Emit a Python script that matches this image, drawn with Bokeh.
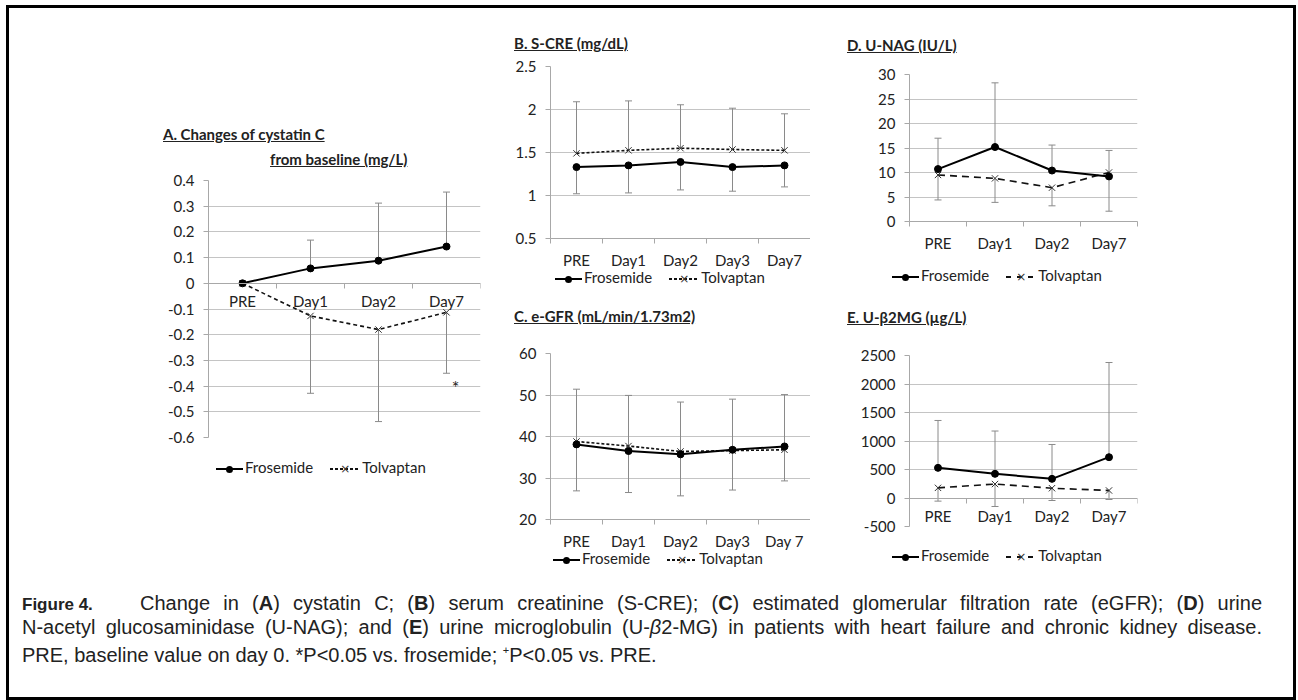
import numpy as np
from bokeh.plotting import figure
from bokeh.models import (FactorRange, Range1d, LinearAxis, CategoricalAxis, FixedTicker, Whisker,
                          TeeHead, ColumnDataSource, Div)
from bokeh.layouts import column, row
from bokeh.core.properties import value
from bokeh.embed import file_html
from bokeh.resources import INLINE

FONT = "Lato"
GRID = "#c4c4c4"
AXIS = "#a8a8a8"
ERR = "#8a8a8a"
TXT = "#222222"

# ---------------- data ----------------
# A. Changes of cystatin C from baseline (mg/L)
a_cats = ["PRE", "Day1", "Day2", "Day7"]
a_fros = [0.0, 0.058, 0.088, 0.143]
a_fros_end = [np.nan, 0.168, 0.312, 0.355]
a_tolv = [0.0, -0.127, -0.180, -0.113]
a_tolv_end = [np.nan, -0.428, -0.538, -0.350]
a_sig = ["", "", "", "*"]
a_yticks = [0.4, 0.3, 0.2, 0.1, 0.0, -0.1, -0.2, -0.3, -0.4, -0.5, -0.6]
a_ylabels = ["0.4", "0.3", "0.2", "0.1", "0", "-0.1", "-0.2", "-0.3", "-0.4", "-0.5", "-0.6"]

# B. S-CRE (mg/dL)
b_cats = ["PRE", "Day1", "Day2", "Day3", "Day7"]
b_fros = [1.33, 1.35, 1.39, 1.33, 1.35]
b_fros_end = [1.02, 1.03, 1.065, 1.05, 1.10]
b_tolv = [1.49, 1.525, 1.55, 1.535, 1.525]
b_tolv_end = [2.09, 2.10, 2.055, 2.015, 1.95]
b_yticks = [2.5, 2.0, 1.5, 1.0, 0.5]
b_ylabels = ["2.5", "2", "1.5", "1", "0.5"]

# C. e-GFR (mL/min/1.73m2)
c_cats = ["PRE", "Day1", "Day2", "Day3", "Day 7"]
c_fros = [38.1, 36.5, 35.7, 36.8, 37.6]
c_fros_end = [26.9, 26.5, 25.7, 27.1, 29.3]
c_tolv = [38.8, 37.7, 36.4, 36.6, 36.8]
c_tolv_end = [51.4, 49.9, 48.3, 49.0, 50.1]
c_yticks = [60, 50, 40, 30, 20]
c_ylabels = ["60", "50", "40", "30", "20"]

# D. U-NAG (IU/L)
d_cats = ["PRE", "Day1", "Day2", "Day7"]
d_fros = [10.7, 15.2, 10.4, 9.2]
d_fros_end = [17.0, 28.3, 15.6, 14.5]
d_tolv = [9.5, 8.8, 6.9, 10.0]
d_tolv_end = [4.4, 3.9, 3.2, 2.1]
d_yticks = [30, 25, 20, 15, 10, 5, 0]
d_ylabels = ["30", "25", "20", "15", "10", "5", "0"]

# E. U-beta2MG (ug/L)
e_cats = ["PRE", "Day1", "Day2", "Day7"]
e_fros = [529, 424, 336, 716]
e_fros_end = [1360, 1175, 939, 2377]
e_tolv = [178, 245, 172, 132]
e_tolv_end = [-55, -149, -44, -26]
e_yticks = [2500, 2000, 1500, 1000, 500, 0, -500]
e_ylabels = ["2500", "2000", "1500", "1000", "500", "0", "-500"]

series_names = ["Frosemide", "Tolvaptan"]


def add_err(p, cats, vals, ends):
    vals = np.asarray(vals, dtype=float)
    ends = np.asarray(ends, dtype=float)
    up = np.nanmean(ends - vals) > 0
    src = ColumnDataSource(dict(x=cats, lo=np.minimum(vals, ends), hi=np.maximum(vals, ends)))
    head = TeeHead(size=7, line_color=ERR, line_width=1)
    w = Whisker(base="x", lower="lo", upper="hi", source=src, line_color=ERR, line_width=1,
                upper_head=head if up else None, lower_head=None if up else head,
                level="underlay")
    p.add_layout(w)


def make_panel(cats, fros, fros_end, tolv, tolv_end, yticks, ylabels, xaxis_at,
               width, height, mbl, mbr, mbt, mbb, dash, xstand):
    p = figure(x_range=FactorRange(factors=cats), y_range=Range1d(min(yticks), max(yticks)),
               width=width, height=height, min_border_left=mbl, min_border_right=mbr,
               min_border_top=mbt, min_border_bottom=mbb, x_axis_location=None,
               output_backend="svg", toolbar_location=None, outline_line_color=None)
    for g in p.grid:
        if g.dimension == 0:
            g.grid_line_color = None
    p.ygrid.ticker = FixedTicker(ticks=yticks)
    p.ygrid.grid_line_color = GRID
    p.yaxis.ticker = FixedTicker(ticks=yticks)
    p.yaxis.major_label_overrides = {t: l for t, l in zip(yticks, ylabels)}
    p.yaxis.axis_line_color = AXIS
    p.yaxis.major_tick_line_color = AXIS
    p.yaxis.major_tick_out = 5
    p.yaxis.major_tick_in = 0
    p.yaxis.minor_tick_line_color = None
    p.yaxis.major_label_standoff = 9
    p.yaxis.major_label_text_font = FONT
    p.yaxis.major_label_text_font_size = "15px"
    p.yaxis.major_label_text_color = TXT

    # boundary tick axis: category edges are the synthetic coordinates 0..n (labels hidden)
    n = len(cats)
    bax = LinearAxis(ticker=FixedTicker(ticks=list(range(n + 1))),
                     fixed_location=xaxis_at, axis_line_color=AXIS,
                     major_tick_line_color=AXIS, major_tick_out=5, major_tick_in=0,
                     minor_tick_line_color=None, major_label_standoff=0,
                     major_label_text_font_size="0px")
    p.add_layout(bax, "below")
    cax = CategoricalAxis(fixed_location=xaxis_at, axis_line_color=None, major_tick_line_color=None,
                          major_tick_out=0, major_tick_in=0, major_label_standoff=xstand,
                          major_label_text_font=FONT, major_label_text_font_size="15px",
                          major_label_text_color=TXT)
    p.add_layout(cax, "below")

    add_err(p, cats, fros, fros_end)
    add_err(p, cats, tolv, tolv_end)

    sf = ColumnDataSource(dict(x=cats, y=fros))
    st = ColumnDataSource(dict(x=cats, y=tolv))
    p.line("x", "y", source=st, line_color="#111111", line_width=1.6, line_dash=dash)
    p.scatter("x", "y", source=st, marker="x", size=9, line_color="#333333", line_width=1)
    p.line("x", "y", source=sf, line_color="black", line_width=2)
    p.scatter("x", "y", source=sf, marker="circle", size=7, fill_color="black", line_color="black")
    return p


pA = make_panel(a_cats, a_fros, a_fros_end, a_tolv, a_tolv_end, a_yticks, a_ylabels, 0,
                491, 287, 199, 20, 10, 20, "4 3", 9)
pA.text(x=a_cats, y=a_tolv_end, text=a_sig, x_offset=9, y_offset=14,
        text_font=value(FONT), text_font_size="18px", text_color=TXT,
        text_align="center", text_baseline="middle")
pB = make_panel(b_cats, b_fros, b_fros_end, b_tolv, b_tolv_end, b_yticks, b_ylabels, None,
                310, 215, 50, 0, 10, 32, "3 2", 7)
pC = make_panel(c_cats, c_fros, c_fros_end, c_tolv, c_tolv_end, c_yticks, c_ylabels, None,
                310, 209, 45, 0, 10, 32, "3 2", 7)
pD = make_panel(d_cats, d_fros, d_fros_end, d_tolv, d_tolv_end, d_yticks, d_ylabels, None,
                330, 190, 78, 0, 10, 32, "7 5", 7)
pE = make_panel(e_cats, e_fros, e_fros_end, e_tolv, e_tolv_end, e_yticks, e_ylabels, 0,
                330, 201, 99, 3, 10, 20, "7 5", 9)

TSTYLE = "font-family:Lato;font-weight:bold;font-size:15px;color:#222;white-space:nowrap;"


def title_div(html, w, h, mt, ml, lh=20):
    return Div(text=f'<div style="{TSTYLE}line-height:{lh}px;margin-top:{mt}px;margin-left:{ml}px">{html}</div>',
               width=w, height=h, margin=0)


def glyph_solid():
    return ('<span style="display:inline-block;position:relative;width:27px;height:14px;vertical-align:middle;">'
            '<span style="position:absolute;left:0;top:6px;width:27px;height:2px;background:#000;"></span>'
            '<span style="position:absolute;left:10px;top:3.5px;width:7px;height:7px;border-radius:50%;background:#000;"></span>'
            '</span>')


def glyph_dash(on, off):
    return ('<span style="display:inline-block;position:relative;width:30px;height:14px;vertical-align:middle;">'
            f'<span style="position:absolute;left:0;top:6px;width:30px;height:1.6px;'
            f'background:repeating-linear-gradient(90deg,#111 0 {on}px,transparent {on}px {on + off}px);"></span>'
            '<span style="position:absolute;left:0;top:0;width:30px;text-align:center;'
            'font-family:\'DejaVu Sans\';font-size:12px;line-height:14px;color:#333;">×</span>'
            '</span>')


def legend_div(w, h, mt, ml, lh, on, off):
    html = (f'<div style="margin-top:{mt}px;margin-left:{ml}px;white-space:nowrap;font-family:Lato;'
            f'font-size:15px;line-height:{lh}px;color:#222;">'
            f'{glyph_solid()}<span style="margin-left:2px;">{series_names[0]}</span>'
            f'<span style="display:inline-block;width:17px;"></span>'
            f'{glyph_dash(on, off)}<span style="margin-left:2px;">{series_names[1]}</span></div>')
    return Div(text=html, width=w, height=h, margin=0)


dA = title_div('<u>A. Changes of cystatin C</u><br><span style="margin-left:107px"><u>from baseline (mg/L)</u></span>',
               491, 162, 114, 154, lh=25)
lA = legend_div(491, 30, 0, 207, 20, 3, 2)
dB = title_div('<u>B. S-CRE (mg/dL)</u>', 310, 48, 25, 14)
lB = legend_div(310, 16, 0, 55, 12, 3, 2)
dC = title_div('<u>C. e-GFR (mL/min/1.73m2)</u>', 310, 56, 19, 14)
lC = legend_div(310, 14, 0, 53, 10, 3, 2)
dD = title_div('<u>D. U-NAG (IU/L)</u>', 330, 56, 27, 37)
lD = legend_div(330, 32, 13, 82, 16, 5, 6)
dE = title_div('<u>E. U-β2MG (µg/L)</u>', 330, 59, 21, 37)
lE = legend_div(330, 20, 0, 82, 18, 5, 6)

cap_html = (
    '<div style="margin-top:26px;margin-left:13px;width:1240px;font-family:\'Liberation Sans\',Arial,sans-serif;'
    'font-size:20px;line-height:23px;color:#222;">'
    '<div style="text-align:justify;text-align-last:justify;">'
    '<span style="font-family:\'Liberation Sans Narrow\',\'Liberation Sans\';font-weight:bold;font-size:17px;'
    'display:inline-block;width:118px;text-align:left;text-align-last:left;">Figure 4.</span>'
    'Change in (<b>A</b>) cystatin C; (<b>B</b>) serum creatinine (S-CRE); (<b>C</b>) estimated glomerular '
    'filtration rate (eGFR); (<b>D</b>) urine</div>'
    '<div style="text-align:justify;text-align-last:justify;">N-acetyl glucosaminidase (U-NAG); and (<b>E</b>) '
    'urine microglobulin (U-<i>β</i>2-MG) in patients with heart failure and chronic kidney disease.</div>'
    '<div>PRE, baseline value on day 0. *P&lt;0.05 vs. frosemide; <sup style="font-size:11px">+</sup>P&lt;0.05 vs. PRE.</div>'
    '</div>'
)
cap = Div(text=cap_html, width=1284, height=131, margin=0)

colA = column(dA, pA, lA, spacing=0)
colBC = column(dB, pB, lB, dC, pC, lC, spacing=0)
colDE = column(dD, pD, lD, dE, pE, lE, spacing=0)
top = row(colA, colBC, colDE, spacing=0)
layout = column(top, cap, spacing=0, margin=(5, 0, 0, 6),
                styles={"border": "3px solid black"})

open("out.html", "w").write(file_html(layout, INLINE))
